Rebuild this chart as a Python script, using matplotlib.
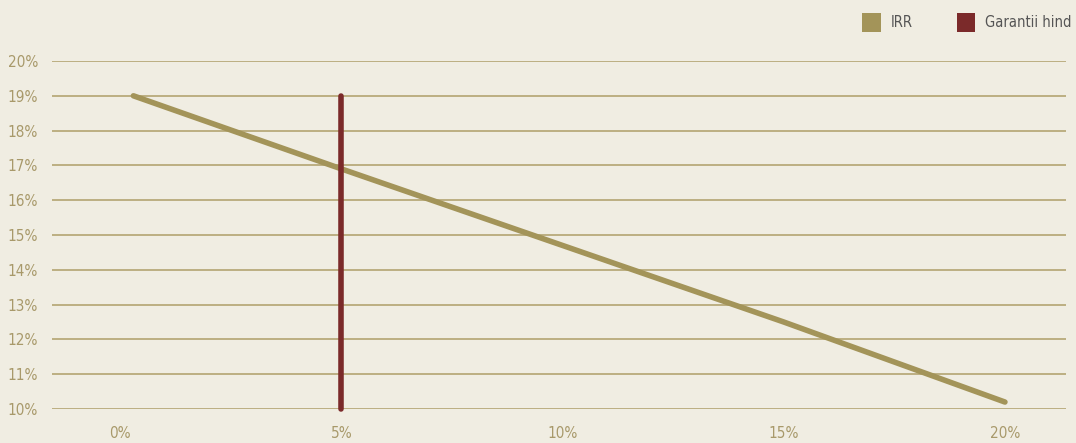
import matplotlib.pyplot as plt
from matplotlib.patches import Patch
from matplotlib import font_manager

# data
irr_x = [0.3, 5, 10, 15, 20]
irr_y = [19.0, 16.9, 14.7, 12.5, 10.2]
guarantee_x = [5, 5]
guarantee_y = [10, 19]
x_ticks = [0, 5, 10, 15, 20]
y_ticks = [10, 11, 12, 13, 14, 15, 16, 17, 18, 19, 20]

bg = '#f0ede2'
olive = '#a39459'
grid_col = '#b3a472'
red = '#7b2a2a'
text_col = '#a8996a'

names = {f.name for f in font_manager.fontManager.ttflist}
if 'Liberation Sans Narrow' in names:
    plt.rcParams['font.family'] = 'Liberation Sans Narrow'
else:
    plt.rcParams['font.family'] = 'DejaVu Sans'
    plt.rcParams['font.stretch'] = 'condensed'

fig = plt.figure(figsize=(10.76, 4.43), dpi=100, facecolor=bg)
ax = fig.add_axes([52 / 1076, 34 / 443, 1014 / 1076, 348 / 443])
ax.set_facecolor(bg)

for y in y_ticks:
    ax.axhline(y, color=grid_col, lw=1.2, zorder=1)

ax.plot(irr_x, irr_y, color=olive, lw=4, solid_capstyle='round', zorder=3, clip_on=False)
ax.plot(guarantee_x, guarantee_y, color=red, lw=4, solid_capstyle='round', zorder=4, clip_on=False)

ax.set_xlim(-1.54, 21.38)
ax.set_ylim(10, 20)
ax.set_xticks(x_ticks)
ax.set_xticklabels([f'{v}%' for v in x_ticks])
ax.set_yticks(y_ticks)
ax.set_yticklabels([f'{v}%' for v in y_ticks])
ax.tick_params(length=0, colors=text_col, labelsize=11)
ax.tick_params(axis='y', pad=10)
ax.tick_params(axis='x', pad=12)
for s in ax.spines.values():
    s.set_visible(False)

handles = [Patch(facecolor=olive, label='IRR'), Patch(facecolor=red, label='Garantii hind')]
leg = fig.legend(handles=handles, loc='upper right', bbox_to_anchor=(1.008, 1.0), ncol=2,
                 frameon=False, fontsize=10.5, handlelength=1.25, handleheight=1.65,
                 columnspacing=3.0, handletextpad=0.7)
for t in leg.get_texts():
    t.set_color('#555555')

fig.savefig('out.png', dpi=100, facecolor=bg)
